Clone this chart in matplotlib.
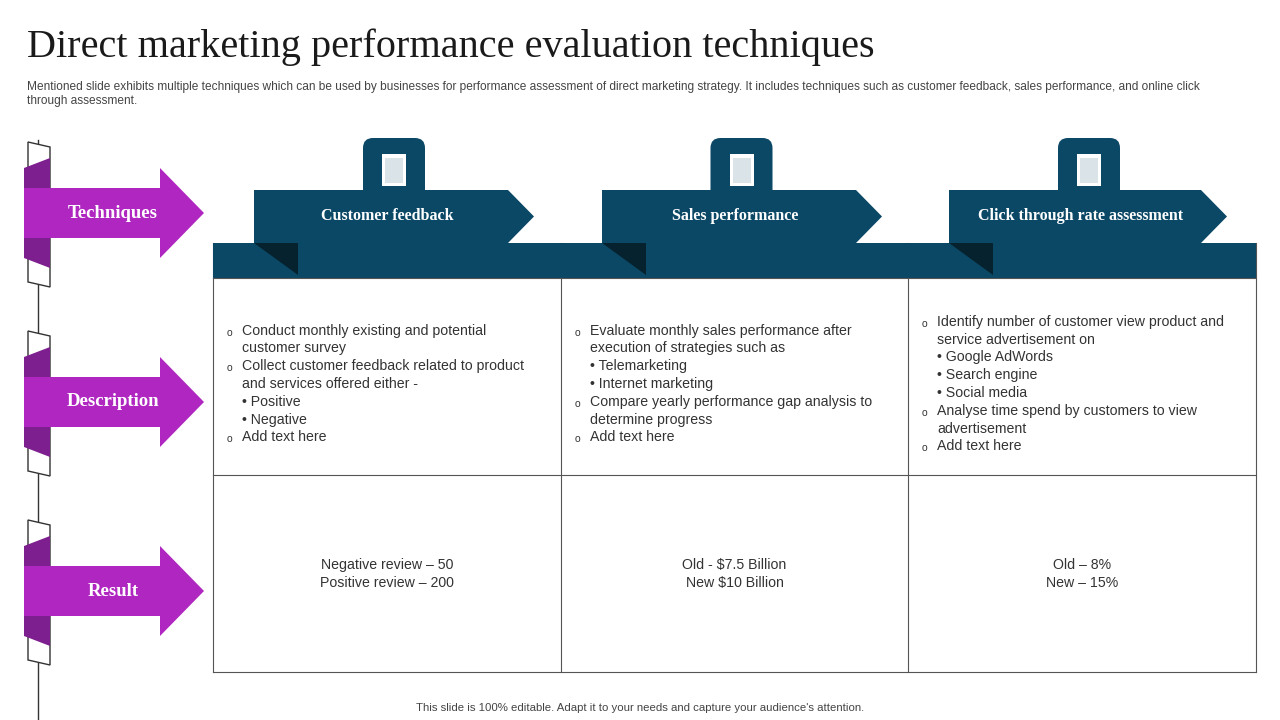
import matplotlib.pyplot as plt
from matplotlib.patches import Polygon, Rectangle, FancyBboxPatch

# ====== CONTENT ======
title = "Direct marketing performance evaluation techniques"
subtitle = ["Mentioned slide exhibits multiple techniques which can be used by businesses for performance assessment of direct marketing strategy. It includes techniques such as customer feedback, sales performance, and online click",
            "through assessment."]
row_labels = ["Techniques", "Description", "Result"]
techniques = ["Customer feedback", "Sales performance", "Click through rate assessment"]
# each line: (kind, text) kind "o" = main bullet, "s" = sub bullet, "" = continuation
descriptions = [
    [("o", "Conduct monthly existing and potential"), ("", "customer survey"),
     ("o", "Collect customer feedback related to product"), ("", "and services offered either -"),
     ("s", "Positive"), ("s", "Negative"), ("o", "Add text here")],
    [("o", "Evaluate monthly sales performance after"), ("", "execution of strategies such as"),
     ("s", "Telemarketing"), ("s", "Internet marketing"),
     ("o", "Compare yearly performance gap analysis to"), ("", "determine progress"), ("o", "Add text here")],
    [("o", "Identify number of customer view product and"), ("", "service advertisement on"),
     ("s", "Google AdWords"), ("s", "Search engine"), ("s", "Social media"),
     ("o", "Analyse time spend by customers to view"), ("", "advertisement"), ("o", "Add text here")],
]
results = [["Negative review \u2013 50", "Positive review \u2013 200"],
           ["Old - $7.5 Billion", "New $10 Billion"],
           ["Old \u2013 8%", "New \u2013 15%"]]
footer = "This slide is 100% editable. Adapt it to your needs and capture your audience's attention."
# =====================

NAVY = "#0b4866"
PURPLE = "#b026c0"
DPURPLE = "#7d1f8e"
SANS = "Liberation Sans"
SERIF = "Liberation Serif"

fig = plt.figure(figsize=(12.8, 7.2), dpi=100)
ax = fig.add_axes([0, 0, 1, 1])
ax.set_xlim(0, 1280)
ax.set_ylim(720, 0)
ax.axis("off")

ax.text(27, 47, title, fontsize=29, family=SERIF, color="#1a1a1a", va="center")
for i, s in enumerate(subtitle):
    ax.text(27, 87 + i * 14, s, fontsize=8.6, family=SANS, color="#444444", va="center")

# left vertical line and arrows
ax.plot([38, 38], [140, 720], color="#333333", lw=1)
for i, lab in enumerate(row_labels):
    cy = 213 + i * 189
    strip = Polygon([(28, cy - 71), (50, cy - 66), (50, cy + 74), (28, cy + 69)],
                    closed=True, fc="white", ec="#333333", lw=1, zorder=2)
    ax.add_patch(strip)
    ax.add_patch(Polygon([(24, cy - 45), (50, cy - 55), (50, cy + 55), (24, cy + 45)],
                         closed=True, fc=DPURPLE, ec="none", zorder=3))
    ax.add_patch(Polygon([(24, cy - 25), (160, cy - 25), (160, cy - 45), (204, cy),
                          (160, cy + 45), (160, cy + 25), (24, cy + 25)],
                         closed=True, fc=PURPLE, ec="none", zorder=4))
    ax.text(113, cy, lab, fontsize=13.5, family=SERIF, weight="bold", color="white",
            ha="center", va="center", zorder=5)

# table
x0, x1 = 213, 1256
cols = [213, 561, 908, 1256]
ax.add_patch(Rectangle((x0, 243), x1 - x0, 35, fc=NAVY, ec="none", zorder=2))
for x in cols:
    ax.plot([x, x], [243, 672], color="#555555", lw=0.8, zorder=1)
for y in [278, 475, 672]:
    ax.plot([x0, x1], [y, y], color="#555555", lw=0.8, zorder=3)

for j, name in enumerate(techniques):
    left = cols[j] + 41
    right = left + 254 if j < 2 else left + 252
    tip = right + 26
    ax.add_patch(Polygon([(left, 190), (right, 190), (tip, 216.5), (right, 243), (left, 243)],
                         closed=True, fc=NAVY, ec="none", zorder=4))
    ax.add_patch(Polygon([(left, 243), (left + 44, 243), (left + 44, 275)],
                         closed=True, fc="#06222f", ec="none", zorder=5))
    ax.text((left + right) / 2 + 6, 216.5, name, fontsize=11.5, family=SERIF, weight="bold",
            color="white", ha="center", va="center", zorder=6)
    cx = (cols[j] + cols[j + 1]) / 2 + 7
    ax.add_patch(FancyBboxPatch((cx - 31, 138), 62, 62, boxstyle="round,pad=0,rounding_size=10",
                                fc=NAVY, ec="none", zorder=5))
    # simple white icon
    ax.add_patch(Rectangle((cx - 12, 154), 24, 32, fc="white", ec="none", zorder=6))
    ax.add_patch(Rectangle((cx - 9, 158), 18, 25, fc=NAVY, ec="none", zorder=6, alpha=0.15))

    # description
    lines = descriptions[j]
    n = len(lines)
    lh = 17.8
    y = 384 - (n - 1) * lh / 2
    for kind, s in lines:
        if kind == "o":
            ax.text(cols[j] + 14, y + 2, "o", fontsize=7.5, family=SANS, color="#333333", va="center")
            ax.text(cols[j] + 29, y, s, fontsize=10.2, family=SANS, color="#333333", va="center")
        elif kind == "s":
            ax.text(cols[j] + 29, y, "\u2022 " + s, fontsize=10.2, family=SANS, color="#333333", va="center")
        else:
            ax.text(cols[j] + 29, y, s, fontsize=10.2, family=SANS, color="#333333", va="center")
        y += lh
    # result
    for k, s in enumerate(results[j]):
        ax.text((cols[j] + cols[j + 1]) / 2, 565 + k * 18, s, fontsize=10.2, family=SANS,
                color="#333333", ha="center", va="center")

ax.text(640, 708, footer, fontsize=8.2, family=SANS, color="#444444", ha="center", va="center")

fig.savefig("out.png", dpi=100)
